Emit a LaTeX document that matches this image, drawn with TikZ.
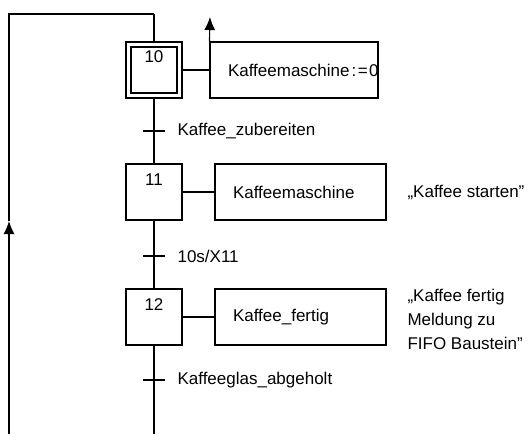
\documentclass[tikz,border=0pt]{standalone}
\usepackage{fontspec}
\setmainfont{Liberation Sans}
\usetikzlibrary{arrows.meta}

\begin{document}
\begin{tikzpicture}[x=1pt,y=-1pt,>={Latex[length=13pt,width=11pt]},line width=1.1pt,font=\fontsize{17}{24}\selectfont,
  stepbox/.style={draw,minimum size=56pt,inner sep=0pt},
  num/.style={anchor=north,inner sep=0pt,yshift=-10pt},
  actbox/.style={draw,minimum height=56pt,inner sep=0pt,label={[anchor=west,inner sep=0pt,xshift=18pt]west:{#1}}},
  note/.style={anchor=west,align=left,inner sep=0pt}]
\useasboundingbox (0,0) rectangle (532,434);
\node[stepbox,label={[num,yshift=1pt]north:10}] (s10) at (154,70) {};
\node[draw,minimum size=46pt,inner sep=0pt] (s10in) at (s10.center) {};
\node[stepbox,label={[num]north:11}] (s11) at (154,192) {};
\node[stepbox,label={[num]north:12}] (s12) at (154,317) {};
\node[actbox={Kaffeemaschine\kern2pt:\kern1.5pt=\kern1.5pt0},minimum width=168pt] (a10) at (294,70) {};
\node[actbox={Kaffeemaschine},minimum width=171pt] (a11) at (300.5,192) {};
\node[actbox={Kaffee\_fertig},minimum width=171pt] (a12) at (300.5,317) {};
\node[note] (c11) at (407,192) {„Kaffee starten"};
\node[note] (c12) at (407,319) {„Kaffee fertig\\Meldung zu\\FIFO Baustein"};
\coordinate (top) at (154,14);
\coordinate (corner) at (9,14);
\coordinate (loopin) at (9,221);
\coordinate (loopbot) at (9,434);
\coordinate (bot) at (154,434);
\coordinate (exit) at (210,17);
\coordinate (t1) at (154,131);
\coordinate (t2) at (154,256);
\coordinate (t3) at (154,380);
\draw (top) -- (s10);
\draw (s10) -- (s11);
\draw (s11) -- (s12);
\draw (s12) -- (bot);
\draw[->] (loopbot) -- (loopin);
\draw (loopin) -- (corner) -- (top);
\draw (s10) -- (a10);
\draw (s11) -- (a11);
\draw (s12) -- (a12);
\draw[->] (a10.north west) -- (exit);
\draw ([xshift=-11pt]t1) -- ([xshift=11pt]t1);
\draw ([xshift=-11pt]t2) -- ([xshift=11pt]t2);
\draw ([xshift=-11pt]t3) -- ([xshift=11pt]t3);
\node[anchor=west,inner sep=0pt] (l1) at ([xshift=23pt]t1) {Kaffee\_zubereiten};
\node[anchor=west,inner sep=0pt] (l2) at ([xshift=23pt]t2) {10s/X11};
\node[anchor=west,inner sep=0pt] (l3) at ([xshift=23pt]t3) {Kaffeeglas\_abgeholt};
\end{tikzpicture}
\end{document}
